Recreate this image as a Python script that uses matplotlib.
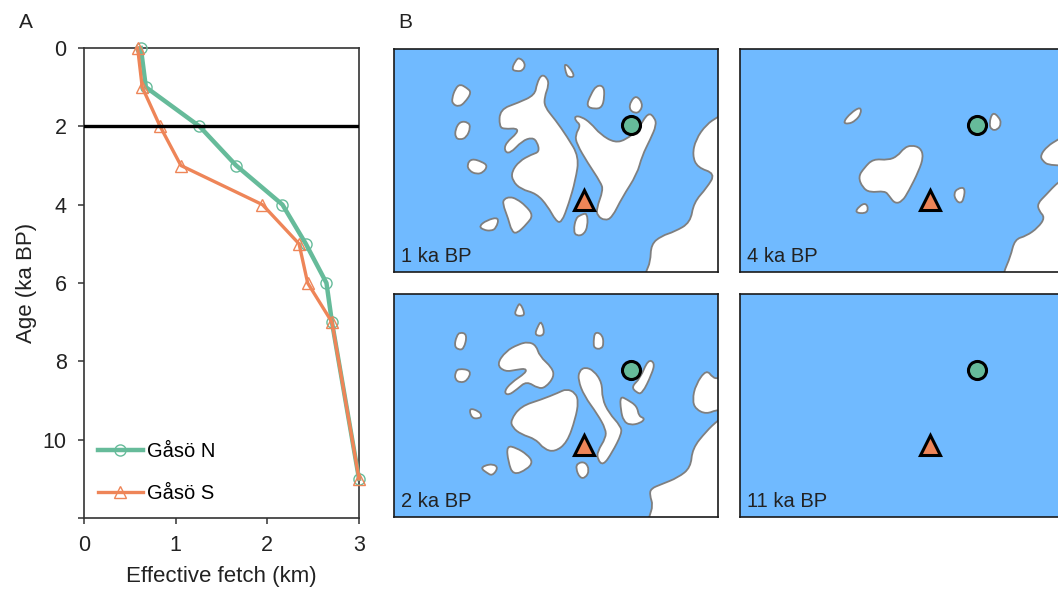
import matplotlib
matplotlib.use('Agg')
import matplotlib.pyplot as plt
from matplotlib.patches import PathPatch
from matplotlib.path import Path

plt.rcParams['font.family'] = ['Liberation Sans', 'DejaVu Sans']

W, H = 1058, 589
GREEN = '#66BB9A'
ORANGE = '#EE8558'
SEA = '#70BAFF'
COAST = '#7F7F7F'
INK = '#222222'

# panel A
age = [0, 1, 2, 3, 4, 5, 6, 7, 11]
fetch_n = [0.62, 0.675, 1.26, 1.66, 2.165, 2.42, 2.645, 2.705, 3.0]
fetch_s = [0.585, 0.635, 0.83, 1.057, 1.947, 2.346, 2.44, 2.705, 3.0]
x_ticks = [0, 1, 2, 3]
y_ticks = [0, 2, 4, 6, 8, 10, 12]
y_labels = ['0', '2', '4', '6', '8', '10', '']
event_age = 2

site_n = (738, 254)
site_s = (597, 480)

land_1ka = [
    [(403,52),(422,70),(415,92),(395,94),(380,88),(392,62)],
    [(538,71),(553,80),(571,110),(550,112),(543,98)],
    [(225,132),(245,143),(260,157),(240,187),(222,200),(203,192),(201,175),(211,146)],
    [(225,244),(250,246),(257,262),(245,292),(225,299),(211,292),(211,268)],
    [(260,355),(292,365),(308,377),(295,397),(275,402),(253,392),(246,373)],
    [(343,530),(334,564),(318,572),(296,569),(282,558),(305,540)],
    [(375,470),(395,476),(422,496),(445,525),(427,550),(395,581),(380,572),(370,535),(353,490),(358,476)],
    [(607,518),(609,557),(597,583),(575,587),(566,572),(573,533),(590,523)],
    [(635,136),(657,138),(659,170),(652,202),(630,207),(604,199),(618,163)],
    [(755,166),(774,190),(767,214),(750,220),(733,207),(738,183)],
    [(470,103),(487,113),(492,135),(479,170),(479,200),(512,240),(547,290),(583,350),(572,420),(552,490),
     (530,548),(513,542),(488,497),(455,460),(408,447),(383,422),(380,395),(403,363),(440,343),(464,335),
     (457,305),(442,292),(412,302),(375,341),(358,332),(363,308),(398,278),(396,264),(360,267),(343,260),
     (345,208),(400,188),(450,165),(456,130)],
    [(570,228),(590,230),(617,248),(647,283),(690,308),(725,298),(760,268),(790,216),(810,233),(815,255),
     (797,297),(772,347),(757,402),(712,472),(682,532),(660,541),(638,527),(635,505),(655,450),(648,427),
     (608,367),(576,312),(571,285),(588,255),(572,242)],
    [(1100,170),(1000,230),(965,253),(933,298),(923,345),(938,382),(992,400),(967,442),(927,487),(917,547),
     (870,574),(830,587),(799,612),(797,665),(783,695),(760,780),(1100,780)],
]
land_2ka = [
    [(405,52),(420,85),(412,94),(388,90),(396,68)],
    [(470,106),(481,152),(449,152),(458,125)],
    [(225,141),(247,148),(237,192),(220,194),(208,182),(215,153)],
    [(220,250),(260,256),(247,287),(225,293),(210,282),(211,263)],
    [(252,368),(282,378),(291,392),(282,400),(260,399)],
    [(298,541),(325,536),(340,548),(322,572),(305,562),(289,550)],
    [(365,481),(395,488),(427,508),(444,530),(427,552),(385,570),(370,530)],
    [(578,533),(602,530),(614,555),(602,578),(585,578),(573,550)],
    [(630,140),(652,148),(657,175),(650,192),(628,190),(626,170)],
    [(706,333),(727,343),(757,363),(762,393),(781,400),(767,414),(735,420),(716,407),(708,375)],
    [(790,223),(810,233),(802,265),(772,327),(755,322),(740,305),(766,280)],
    [(430,170),(454,181),(464,213),(502,248),(508,275),(482,307),(460,310),(425,288),(397,312),(370,331),
     (357,320),(378,293),(423,263),(423,250),(395,254),(360,260),(335,238),(363,198),(400,178)],
    [(545,311),(572,323),(581,350),(572,400),(547,472),(510,500),(478,492),(453,462),(408,447),(383,427),
     (377,405),(408,363),(470,343),(520,323)],
    [(600,246),(627,256),(652,293),(652,340),(672,383),(708,423),(711,445),(682,502),(655,541),(638,522),
     (638,498),(663,458),(663,432),(638,387),(598,332),(580,285),(583,258)],
    [(965,253),(985,278),(1000,280),(1100,280),(1100,372),(1000,372),(965,387),(933,372),(923,345),(933,298)],
    [(1100,330),(1000,405),(965,438),(923,490),(918,547),(880,577),(830,597),(798,610),(795,630),(805,660),
     (793,695),(770,780),(1100,780)],
]
land_4ka = [
    [(392,200),(394,220),(377,242),(355,252),(339,247),(363,218)],
    [(788,216),(807,230),(815,250),(804,269),(785,270),(778,250)],
    [(545,315),(572,323),(581,350),(567,392),(537,452),(517,484),(495,490),(478,467),(465,452),(420,457),
     (398,442),(385,410),(403,383),(430,356),(475,360),(503,348),(523,323)],
    [(407,488),(416,505),(407,520),(375,517),(388,498)],
    [(706,441),(702,477),(692,490),(678,480),(672,460),(683,445)],
    [(1100,230),(985,298),(953,318),(932,345),(938,362),(960,377),(1100,377)],
    [(1100,340),(984,426),(950,463),(923,490),(928,512),(946,532),(925,562),(890,587),(855,597),(842,650),
     (822,695),(800,780),(1100,780)],
]
land_11ka = []


def px_axes(fg, left, top, right, bottom):
    return fg.add_axes([left / W, 1 - bottom / H, (right - left) / W, (bottom - top) / H])


def coastPath(L):
    # rounds the traced outline: quadratic curves between edge midpoints
    mids = [((a[0] + b[0]) / 2, (a[1] + b[1]) / 2) for a, b in zip(L, L[1:] + L[:1])]
    verts = [mids[-1]]
    codes = [Path.MOVETO]
    for p, m in zip(L, mids):
        verts += [p, m]
        codes += [Path.CURVE3, Path.CURVE3]
    return Path(verts, codes)


def plotMap(fg, box, xstart, land, label):
    ax = px_axes(fg, *box)
    ax.set_facecolor(SEA)
    ax.set_xlim(xstart, xstart + 973)
    ax.set_ylim(695, 27)
    ax.set_xticks([])
    ax.set_yticks([])
    for spine in ax.spines.values():
        spine.set_linewidth(1.2)
        spine.set_color('#1a1a1a')
    for L in land:
        ax.add_patch(PathPatch(coastPath(L), facecolor='white', edgecolor=COAST, linewidth=1.3))
    offset = xstart - 27
    ax.plot(site_n[0] + offset, site_n[1], marker='o', markersize=13, color=GREEN,
            markeredgecolor='black', markeredgewidth=2.2, linestyle='none')
    ax.plot(site_s[0] + offset, site_s[1], marker='^', markersize=15, color=ORANGE,
            markeredgecolor='black', markeredgewidth=2.2, linestyle='none')
    ax.text(0.023, 0.07, label, transform=ax.transAxes, ha='left', va='center',
            fontsize=14.5, color=INK)
    return ax


fg = plt.figure(figsize=(W / 100, H / 100), dpi=100)

ax = px_axes(fg, 84, 48, 359, 518)
ax.plot(fetch_n, age, color=GREEN, linewidth=3.2, marker='o', markersize=8, markerfacecolor='none',
        markeredgewidth=1.0, clip_on=False, label='Gåsö N', zorder=3)
ax.plot(fetch_s, age, color=ORANGE, linewidth=2.4, marker='^', markersize=8.5, markerfacecolor='none',
        markeredgewidth=1.0, clip_on=False, label='Gåsö S', zorder=4)
ax.axhline(event_age, color='black', linewidth=2.4, zorder=5)
ax.set_xlim(0, 3)
ax.set_ylim(12, 0)
ax.set_xticks(x_ticks)
ax.set_yticks(y_ticks)
ax.set_yticklabels(y_labels)
ax.tick_params(labelsize=15.5, length=4.5, width=1.1, color='#333333', labelcolor=INK, pad=8)
for spine in ax.spines.values():
    spine.set_linewidth(1.2)
    spine.set_color('#333333')
ax.set_xlabel('Effective fetch (km)', fontsize=16, color=INK, labelpad=7)
ax.set_ylabel('Age (ka BP)', fontsize=16, color=INK, labelpad=4)
ax.legend(loc='lower left', bbox_to_anchor=(0.03, 0.02), frameon=False, fontsize=14.5,
          handlelength=2.2, handletextpad=0.2, labelspacing=1.1, borderpad=0.3, borderaxespad=0)

plotMap(fg, (394, 49, 718, 272), 27, land_1ka, '1 ka BP')
plotMap(fg, (394, 294, 718, 517), 27, land_2ka, '2 ka BP')
plotMap(fg, (740, 49, 1064, 272), 30, land_4ka, '4 ka BP')
plotMap(fg, (740, 294, 1064, 517), 30, land_11ka, '11 ka BP')

fg.text(19 / W, 1 - 22 / H, 'A', fontsize=15, color=INK, ha='left', va='center')
fg.text(398 / W, 1 - 22 / H, 'B', fontsize=15, color=INK, ha='left', va='center')

fg.savefig('out.png', dpi=100)
